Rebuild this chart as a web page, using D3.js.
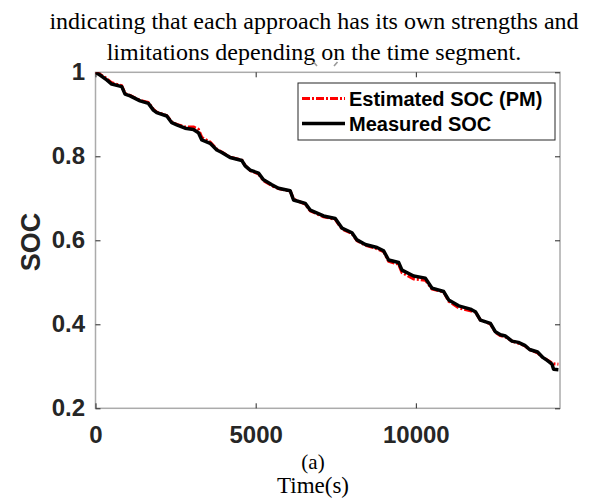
<!DOCTYPE html>
<html>
<head>
<meta charset="utf-8">
<script src="https://cdn.jsdelivr.net/npm/d3@7"></script>
<style>
  body { margin: 0; background: #fff; }
  svg { display: block; }
  .serif { font-family: "Liberation Serif", "Times New Roman", serif; fill: #000; }
  .sans { font-family: "Liberation Sans", Arial, sans-serif; font-weight: bold; fill: #262626; }
</style>
</head>
<body>
<div id="svg_div"></div>
<script>
// values (time in s, SOC as fraction)
var times = [0, 150, 350, 506, 819, 922, 1078, 1391, 1650, 1806, 1912, 2225, 2381, 2537, 2797, 3056, 3213, 3318, 3578, 3787,
  3943, 4203, 4568, 4672, 4828, 5088, 5244, 5506, 5713, 6078, 6182, 6547, 6703, 7119, 7484, 7693, 8006, 8162, 8422, 8787,
  8994, 9150, 9463, 9568, 9931, 10297, 10506, 10869, 11025, 11338, 11703, 11859, 12016, 12328, 12484, 12641, 12800, 13000, 13200, 13400,
  13550, 13800, 13950, 14100, 14250, 14300, 14450];

var measured = [1.000, 0.993, 0.982, 0.972, 0.966, 0.948, 0.944, 0.932, 0.926, 0.910, 0.904, 0.896, 0.880, 0.875, 0.867, 0.864, 0.856, 0.839, 0.831, 0.815,
  0.809, 0.797, 0.790, 0.777, 0.767, 0.760, 0.744, 0.732, 0.724, 0.718, 0.696, 0.688, 0.672, 0.658, 0.652, 0.629, 0.618, 0.601, 0.590, 0.583,
  0.575, 0.553, 0.547, 0.529, 0.515, 0.510, 0.486, 0.478, 0.458, 0.444, 0.436, 0.430, 0.410, 0.402, 0.382, 0.375, 0.372, 0.360, 0.357, 0.350,
  0.340, 0.334, 0.322, 0.314, 0.305, 0.293, 0.292];

var estimated = [1.000, 0.995, 0.985, 0.975, 0.968, 0.950, 0.945, 0.933, 0.928, 0.912, 0.905, 0.897, 0.882, 0.876, 0.870, 0.870, 0.864, 0.845, 0.834, 0.817,
  0.810, 0.798, 0.791, 0.778, 0.766, 0.758, 0.742, 0.730, 0.723, 0.717, 0.698, 0.686, 0.670, 0.656, 0.650, 0.627, 0.616, 0.599, 0.588, 0.580,
  0.573, 0.550, 0.543, 0.523, 0.508, 0.505, 0.484, 0.477, 0.455, 0.439, 0.432, 0.429, 0.410, 0.401, 0.381, 0.373, 0.370, 0.360, 0.355, 0.349,
  0.340, 0.332, 0.322, 0.315, 0.308, 0.306, 0.305];

var x_ticks = [0, 5000, 10000];
var y_ticks = [0.2, 0.4, 0.6, 0.8, 1];
var legend_labels = ['Estimated SOC (PM)', 'Measured SOC'];
var title_lines = ['indicating that each approach has its own strengths and', 'limitations depending on the time segment.'];

var w = 591, h = 499;
var left = 95.5, right = 560, top_ = 72.3, bottom = 408.3;

var the_svg = d3.select('#svg_div')
  .append('svg')
    .attr('width', w)
    .attr('height', h);

var x = d3.scaleLinear().domain([0, 14500]).range([left, right]);
var y = d3.scaleLinear().domain([0.2, 1]).range([bottom, top_]);

// caption text above the plot
the_svg.selectAll('text.title')
  .data(title_lines)
  .enter().append('text')
    .attr('class', 'serif title')
    .attr('x', 314)
    .attr('y', function(d, i) { return 29 + i * 31; })
    .attr('text-anchor', 'middle')
    .attr('font-size', 24)
    .text(function(d) { return d; });

// clipped leftovers of some glyph peeking above the axes
the_svg.append('path')
  .attr('d', 'M313.5,62 L317,66 M337.5,62 L334,66')
  .attr('stroke', '#999')
  .attr('stroke-width', 1.6)
  .attr('fill', 'none');

the_svg.append('clipPath').attr('id', 'plotclip')
  .append('rect')
    .attr('x', left).attr('y', top_)
    .attr('width', right - left).attr('height', bottom - top_);

// box in gray
the_svg.append('rect')
  .attr('x', left).attr('y', top_)
  .attr('width', right - left).attr('height', bottom - top_)
  .attr('fill', 'none')
  .attr('stroke', '#ababab')
  .attr('stroke-width', 1.5);

function style_axis(g) {
  g.select('.domain').remove();
  g.selectAll('.tick line').attr('stroke', '#262626').attr('stroke-width', 1);
  g.selectAll('.tick text')
    .attr('class', 'sans')
    .attr('font-size', 24);
}

the_svg.append('g')
  .attr('transform', 'translate(0,' + bottom + ')')
  .call(d3.axisBottom(x).tickValues(x_ticks).tickSize(-5).tickPadding(17.5).tickFormat(d3.format('d')))
  .call(style_axis);

the_svg.append('g')
  .attr('transform', 'translate(0,' + top_ + ')')
  .call(d3.axisTop(x).tickValues(x_ticks).tickSize(-5).tickFormat(''))
  .call(style_axis);

the_svg.append('g')
  .attr('transform', 'translate(' + left + ',0)')
  .call(d3.axisLeft(y).tickValues(y_ticks).tickSize(-5).tickPadding(10.5).tickFormat(function(d) { return d == 1 ? '1' : d3.format('.1f')(d); }))
  .call(style_axis);

the_svg.append('g')
  .attr('transform', 'translate(' + right + ',0)')
  .call(d3.axisRight(y).tickValues(y_ticks).tickSize(-5).tickFormat(''))
  .call(style_axis);

var line = d3.line()
  .x(function(d) { return x(d[0]); })
  .y(function(d) { return y(d[1]); });

var plot = the_svg.append('g').attr('clip-path', 'url(#plotclip)');

plot.append('path')
  .datum(d3.zip(times, estimated))
  .attr('d', line)
  .attr('fill', 'none')
  .attr('stroke', '#ff0000')
  .attr('stroke-width', 3)
  .attr('stroke-dasharray', '8,2,2,2')
  .attr('stroke-linejoin', 'round');

plot.append('path')
  .datum(d3.zip(times, measured))
  .attr('d', line)
  .attr('fill', 'none')
  .attr('stroke', '#000')
  .attr('stroke-width', 3.5)
  .attr('stroke-linejoin', 'round');

// legend
var leg = the_svg.append('g');
leg.append('rect')
  .attr('x', 298).attr('y', 83)
  .attr('width', 257).attr('height', 57)
  .attr('fill', '#fff')
  .attr('stroke', '#262626')
  .attr('stroke-width', 1);

var leg_styles = [{col: '#ff0000', dash: '8,2,2,2', sw: 3}, {col: '#000', dash: null, sw: 3.5}];
legend_labels.forEach(function(lab, i) {
  var ly = 98.5 + i * 25;
  leg.append('line')
    .attr('x1', 302).attr('x2', 345)
    .attr('y1', ly).attr('y2', ly)
    .attr('stroke', leg_styles[i].col)
    .attr('stroke-width', leg_styles[i].sw)
    .attr('stroke-dasharray', leg_styles[i].dash);
  leg.append('text')
    .attr('class', 'sans')
    .attr('x', 349)
    .attr('y', ly + 7)
    .attr('font-size', 20)
    .style('fill', '#000')
    .text(lab);
});

// axis titles
the_svg.append('text')
  .attr('class', 'sans')
  .attr('transform', 'translate(40,242) rotate(-90)')
  .attr('text-anchor', 'middle')
  .attr('font-size', 27)
  .text('SOC');

the_svg.append('text')
  .attr('class', 'serif')
  .attr('x', 313)
  .attr('y', 469)
  .attr('text-anchor', 'middle')
  .attr('font-size', 21)
  .text('(a)');

the_svg.append('text')
  .attr('class', 'serif')
  .attr('x', 313)
  .attr('y', 493)
  .attr('text-anchor', 'middle')
  .attr('font-size', 23)
  .text('Time(s)');
</script>
</body>
</html>
